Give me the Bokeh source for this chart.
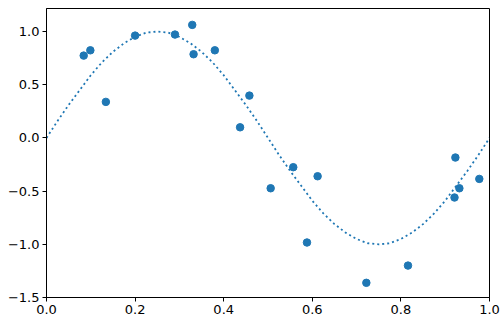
from bokeh.plotting import figure
from bokeh.models import FixedTicker, Range1d
from bokeh.embed import file_html
from bokeh.resources import INLINE

# noisy samples
pts_x = [0.084, 0.099, 0.134, 0.200, 0.290, 0.329, 0.332, 0.380, 0.437, 0.458,
         0.506, 0.557, 0.588, 0.612, 0.722, 0.816, 0.921, 0.923, 0.932, 0.977]
pts_y = [0.774, 0.824, 0.339, 0.962, 0.972, 1.063, 0.787, 0.824, 0.100, 0.398,
         -0.473, -0.275, -0.983, -0.360, -1.362, -1.200, -0.560, -0.184, -0.473, -0.385]

# dotted reference curve, read at steps of 0.025
curve_x = [i * 0.025 for i in range(41)]
curve_y = [0.00, 0.16, 0.31, 0.45, 0.59, 0.71, 0.81, 0.89, 0.95, 0.99, 1.00,
           0.99, 0.95, 0.89, 0.81, 0.71, 0.59, 0.45, 0.31, 0.16, 0.00,
           -0.16, -0.31, -0.45, -0.59, -0.71, -0.81, -0.89, -0.95, -0.99, -1.00,
           -0.99, -0.95, -0.89, -0.81, -0.71, -0.59, -0.45, -0.31, -0.16, 0.00]

x_ticks = [0.0, 0.2, 0.4, 0.6, 0.8, 1.0]
y_ticks = [-1.5, -1.0, -0.5, 0.0, 0.5, 1.0]

p = figure(width=500, height=327, output_backend="svg", toolbar_location=None,
           x_range=Range1d(0, 1), y_range=Range1d(-1.5, 1.217),
           min_border_left=46, min_border_right=11, min_border_top=8, min_border_bottom=30)
p.background_fill_color = "white"
p.border_fill_color = "white"
p.outline_line_color = "black"
p.outline_line_width = 1
p.grid.visible = False

p.line(curve_x, curve_y, line_color="#1f77b4", line_width=1.8, line_dash="2 3")
p.scatter(pts_x, pts_y, size=7.5, fill_color="#1f77b4", line_color="#1f77b4")

for ax, ticks in ((p.xaxis[0], x_ticks), (p.yaxis[0], y_ticks)):
    ax.ticker = FixedTicker(ticks=ticks)
    ax.major_label_overrides = {t: (f"{t:.1f}".replace("-", "\u2212")) for t in ticks}
    ax.minor_tick_line_color = None
    ax.major_tick_in = 0
    ax.major_tick_out = 4
    ax.axis_line_color = "black"
    ax.major_tick_line_color = "black"
    ax.major_label_text_font = "DejaVu Sans"
    ax.major_label_text_font_size = "13px"
    ax.major_label_text_color = "black"
    ax.major_label_standoff = 3

open("out.html", "w").write(file_html(p, INLINE))
